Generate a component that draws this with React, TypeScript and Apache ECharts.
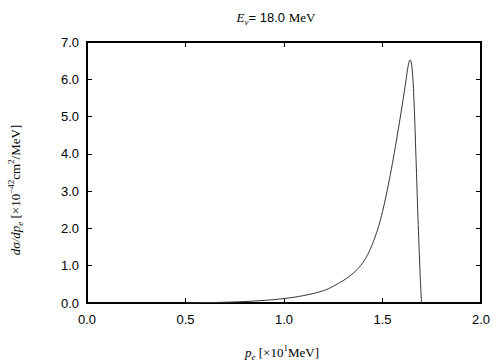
import React, { useEffect, useRef } from "react";
import * as echarts from "echarts";

const xValues = [0.5, 0.6, 0.7, 0.8, 0.9, 1.0, 1.1, 1.2, 1.25, 1.3, 1.32, 1.34, 1.36, 1.38, 1.4, 1.42, 1.44, 1.46, 1.48, 1.5, 1.52, 1.54, 1.56, 1.58, 1.6, 1.62, 1.63, 1.64, 1.65, 1.66, 1.67, 1.68, 1.69, 1.698];
const yValues = [0.0, 0.01, 0.02, 0.04, 0.07, 0.12, 0.2, 0.33, 0.45, 0.6, 0.67, 0.75, 0.84, 0.95, 1.08, 1.25, 1.47, 1.74, 2.05, 2.45, 2.92, 3.45, 4.03, 4.65, 5.3, 6.0, 6.35, 6.52, 6.3, 5.4, 3.9, 2.3, 0.9, 0.0];
const xTickStep = 0.5;
const yTickStep = 1.0;

export default function App() {
  const ref = useRef<HTMLDivElement>(null);
  useEffect(() => {
    if (!ref.current) return;
    const chart = echarts.init(ref.current, undefined, { renderer: "svg" });
    const sans = "Liberation Sans";
    const serif = "Liberation Serif";
    const data = xValues.map((x, i) => [x, yValues[i]]);
    const axisCommon = {
      type: "value" as const,
      axisLine: { show: true, onZero: false, lineStyle: { color: "#000", width: 2 } },
      axisTick: { show: true, inside: true, length: 5, lineStyle: { color: "#000", width: 1 } },
      splitLine: { show: false },
    };
    chart.setOption({
      animation: false,
      backgroundColor: "#fff",
      grid: { left: 87, right: 23, top: 42, bottom: 57 },
      xAxis: [
        {
          ...axisCommon,
          position: "bottom",
          min: 0,
          max: 2,
          interval: xTickStep,
          axisLabel: { color: "#000", fontFamily: sans, fontSize: 13, margin: 10, formatter: (v: number) => v.toFixed(1) },
        },
        {
          ...axisCommon,
          position: "top",
          min: 0,
          max: 2,
          interval: xTickStep,
          axisLabel: { show: false },
        },
      ],
      yAxis: [
        {
          ...axisCommon,
          position: "left",
          min: 0,
          max: 7,
          interval: yTickStep,
          axisLabel: { color: "#000", fontFamily: sans, fontSize: 13, margin: 8, formatter: (v: number) => v.toFixed(1) },
        },
        {
          ...axisCommon,
          position: "right",
          min: 0,
          max: 7,
          interval: yTickStep,
          axisLabel: { show: false },
        },
      ],
      series: [
        {
          type: "line",
          data,
          showSymbol: false,
          smooth: 0.4,
          lineStyle: { color: "#333", width: 1 },
          xAxisIndex: 0,
          yAxisIndex: 0,
        },
      ],
      graphic: [
        {
          type: "text",
          x: 276,
          y: 17,
          style: {
            text: "{a|E}{b|ν}{c|= 18.0 }{d|MeV}",
            align: "center",
            verticalAlign: "middle",
            rich: {
              a: { fontFamily: serif, fontStyle: "italic", fontSize: 13, lineHeight: 18, fill: "#000" },
              b: { fontFamily: serif, fontStyle: "italic", fontSize: 9, verticalAlign: "bottom", lineHeight: 12, fill: "#000" },
              c: { fontFamily: sans, fontSize: 13, lineHeight: 18, fill: "#000" },
              d: { fontFamily: serif, fontSize: 13, lineHeight: 18, fill: "#000" },
            },
          },
        },
        {
          type: "text",
          x: 282,
          y: 352,
          style: {
            text: "{a|p}{b|e}{c| [×10}{s|1}{c|MeV]}",
            align: "center",
            verticalAlign: "middle",
            rich: {
              a: { fontFamily: serif, fontStyle: "italic", fontSize: 13, lineHeight: 18, fill: "#000" },
              b: { fontFamily: serif, fontStyle: "italic", fontSize: 9, verticalAlign: "bottom", lineHeight: 12, fill: "#000" },
              c: { fontFamily: serif, fontSize: 13, lineHeight: 18, fill: "#000" },
              s: { fontFamily: serif, fontSize: 9, verticalAlign: "top", lineHeight: 12, fill: "#000" },
            },
          },
        },
        {
          type: "text",
          x: 15,
          y: 190,
          rotation: Math.PI / 2,
          style: {
            text: "{a|dσ/dp}{b|e}{c| [×10}{s|−42}{c|cm}{s|2}{c|/MeV]}",
            align: "center",
            verticalAlign: "middle",
            rich: {
              a: { fontFamily: serif, fontStyle: "italic", fontSize: 13, lineHeight: 18, fill: "#000" },
              b: { fontFamily: serif, fontStyle: "italic", fontSize: 9, verticalAlign: "bottom", lineHeight: 12, fill: "#000" },
              c: { fontFamily: serif, fontSize: 13, lineHeight: 18, fill: "#000" },
              s: { fontFamily: serif, fontSize: 9, verticalAlign: "top", lineHeight: 12, fill: "#000" },
            },
          },
        },
      ],
    });
    return () => chart.dispose();
  }, []);
  return <div ref={ref} style={{ width: 504, height: 360, position: "fixed", left: 0, top: 0 }} />;
}
